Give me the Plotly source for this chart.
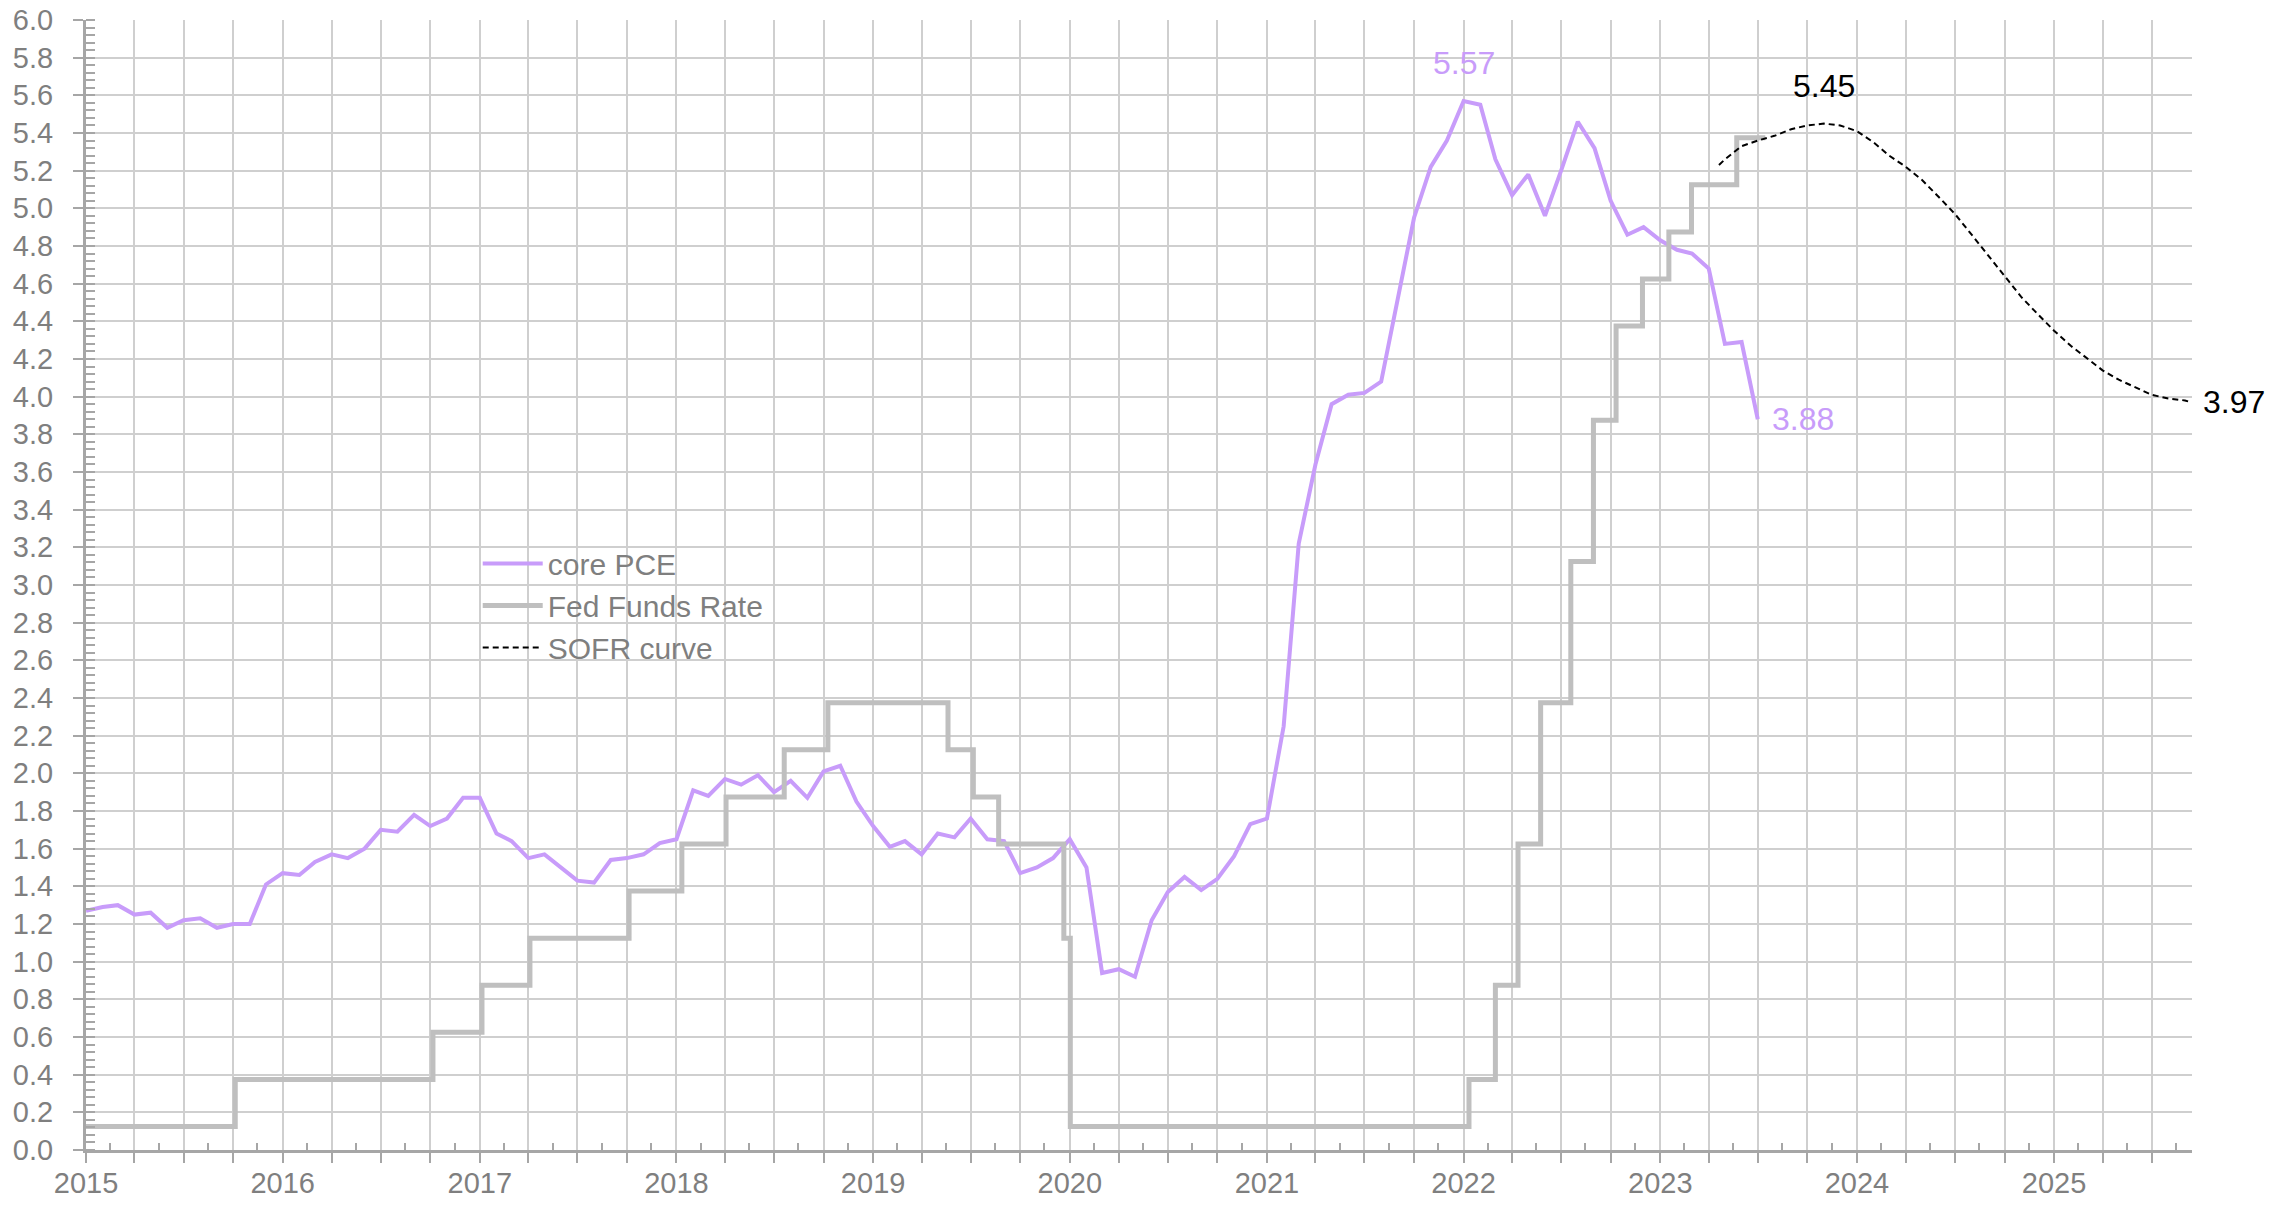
import plotly.graph_objects as go
import pandas as pd

# ---------------- data ----------------
# core PCE, % y/y, monthly from Jan 2015
pce_values = [
    1.27, 1.29, 1.30, 1.25, 1.26, 1.18, 1.22, 1.23, 1.18, 1.20, 1.20, 1.41,  # 2015
    1.47, 1.46, 1.53, 1.57, 1.55, 1.60, 1.70, 1.69, 1.78, 1.72, 1.76, 1.87,  # 2016
    1.87, 1.68, 1.64, 1.55, 1.57, 1.50, 1.43, 1.42, 1.54, 1.55, 1.57, 1.63,  # 2017
    1.65, 1.91, 1.88, 1.97, 1.94, 1.99, 1.90, 1.96, 1.87, 2.01, 2.04, 1.85,  # 2018
    1.72, 1.61, 1.64, 1.57, 1.68, 1.66, 1.76, 1.65, 1.64, 1.47, 1.50, 1.55,  # 2019
    1.65, 1.50, 0.94, 0.96, 0.92, 1.22, 1.37, 1.45, 1.38, 1.44, 1.56, 1.73,  # 2020
    1.76, 2.25, 3.22, 3.64, 3.96, 4.01, 4.02, 4.08, 4.52, 4.95, 5.22, 5.36,  # 2021
    5.57, 5.55, 5.26, 5.07, 5.18, 4.96, 5.20, 5.46, 5.32, 5.04, 4.86, 4.90,  # 2022
    4.83, 4.78, 4.76, 4.68, 4.28, 4.29, 3.88,                                # 2023
]
pce_dates = pd.date_range("2015-01-01", periods=len(pce_values), freq="MS")

# Fed Funds Rate (mid of target range), step changes as placed on the chart
fed_dates = [
    "2015-01-01", "2015-10-05", "2016-10-06", "2017-01-05", "2017-04-04",
    "2017-10-05", "2018-01-11", "2018-04-03", "2018-07-20", "2018-10-09",
    "2019-05-20", "2019-07-06", "2019-08-22", "2019-12-21", "2020-01-02",
    "2022-01-11", "2022-03-01", "2022-04-12", "2022-05-24", "2022-07-19",
    "2022-08-30", "2022-10-11", "2022-11-29", "2023-01-17", "2023-02-28",
    "2023-05-23", "2023-07-15",
]
fed_values = [
    0.125, 0.375, 0.625, 0.875, 1.125,
    1.375, 1.625, 1.875, 2.125, 2.375,
    2.125, 1.875, 1.625, 1.125, 0.125,
    0.375, 0.875, 1.625, 2.375, 3.125,
    3.875, 4.375, 4.625, 4.875, 5.125,
    5.375, 5.375,
]

# SOFR forward curve
sofr_dates = [
    "2023-04-20", "2023-05-01", "2023-06-01", "2023-07-01", "2023-08-01",
    "2023-09-01", "2023-10-01", "2023-11-01", "2023-12-01", "2024-01-01",
    "2024-02-01", "2024-03-01", "2024-04-01", "2024-05-01", "2024-06-01",
    "2024-07-01", "2024-08-01", "2024-09-01", "2024-10-01", "2024-11-01",
    "2024-12-01", "2025-01-01", "2025-02-01", "2025-03-01", "2025-04-01",
    "2025-05-01", "2025-06-01", "2025-07-01", "2025-08-01", "2025-09-01",
    "2025-09-12",
]
sofr_values = [
    5.23, 5.26, 5.33, 5.36, 5.385,
    5.42, 5.44, 5.45, 5.44, 5.41,
    5.35, 5.28, 5.22, 5.15, 5.06,
    4.97, 4.86, 4.75, 4.64, 4.53,
    4.44, 4.35, 4.27, 4.21, 4.14,
    4.09, 4.05, 4.01, 3.99, 3.98,
    3.97,
]

tick_years = [2015, 2016, 2017, 2018, 2019, 2020, 2021, 2022, 2023, 2024, 2025]
y_ticks = [0.0, 0.2, 0.4, 0.6, 0.8, 1.0, 1.2, 1.4, 1.6, 1.8, 2.0, 2.2, 2.4, 2.6, 2.8, 3.0,
           3.2, 3.4, 3.6, 3.8, 4.0, 4.2, 4.4, 4.6, 4.8, 5.0, 5.2, 5.4, 5.6, 5.8, 6.0]
series_names = ["core PCE", "Fed Funds Rate", "SOFR curve"]

# ---------------- styles ----------------
PCE_COLOR = "#C89CFA"
FED_COLOR = "#BFBFBF"
SOFR_COLOR = "#000000"
GRID = "#CFCFCF"
AXIS = "#A6A6A6"
TXT = "#7F7F7F"
FONT = "Arial, Liberation Sans, sans-serif"

x_start, x_end = "2015-01-01", "2025-09-14"

fig = go.Figure()
fig.add_trace(go.Scatter(x=pce_dates, y=pce_values, mode="lines", name=series_names[0],
                         line=dict(color=PCE_COLOR, width=4)))
fig.add_trace(go.Scatter(x=fed_dates, y=fed_values, mode="lines", name=series_names[1],
                         line=dict(color=FED_COLOR, width=5, shape="hv")))
fig.add_trace(go.Scatter(x=sofr_dates, y=sofr_values, mode="lines", name=series_names[2],
                         line=dict(color=SOFR_COLOR, width=2, dash="6px,4px")))

# value labels
pce_peak_i = max(range(len(pce_values)), key=lambda i: pce_values[i])
sofr_peak_i = max(range(len(sofr_values)), key=lambda i: sofr_values[i])
ann = [
    dict(x=pce_dates[pce_peak_i], y=pce_values[pce_peak_i], text=f"{pce_values[pce_peak_i]:.2f}",
         font=dict(color=PCE_COLOR, size=32), yanchor="bottom", xanchor="center", yshift=18),
    dict(x=pce_dates[-1], y=pce_values[-1], text=f"{pce_values[-1]:.2f}",
         font=dict(color=PCE_COLOR, size=32), xanchor="left", yanchor="middle", xshift=12),
    dict(x=sofr_dates[sofr_peak_i], y=sofr_values[sofr_peak_i], text=f"{sofr_values[sofr_peak_i]:.2f}",
         font=dict(color=SOFR_COLOR, size=32), yanchor="bottom", xanchor="center", yshift=18),
    dict(x=sofr_dates[-1], y=sofr_values[-1], text=f"{sofr_values[-1]:.2f}",
         font=dict(color=SOFR_COLOR, size=32), xanchor="left", yanchor="middle", xshift=10),
]
for a in ann:
    a.update(showarrow=False, xref="x", yref="y")
    a["font"]["family"] = FONT
fig.update_layout(annotations=ann)

# axis ticks: quarterly gridlines, year labels, half-quarter minor ticks
quarters = pd.date_range(x_start, "2025-07-01", freq="QS")
q_text = [str(d.year) if (d.month == 1 and d.year in tick_years) else "" for d in quarters]
minor_x = [d + pd.Timedelta(days=45) for d in quarters]

fig.update_xaxes(
    range=[x_start, x_end], type="date", automargin=False,
    tickmode="array", tickvals=quarters, ticktext=q_text,
    showgrid=True, gridcolor=GRID, gridwidth=2,
    ticks="outside", ticklen=10, tickwidth=2, tickcolor=AXIS,
    showline=True, linecolor=AXIS, linewidth=3,
    tickfont=dict(family=FONT, size=29, color=TXT),
    ticklabelstandoff=-5,
    minor=dict(tickmode="array", tickvals=minor_x, ticks="inside", ticklen=7,
               tickwidth=2, tickcolor=AXIS, showgrid=False),
    zeroline=False,
)
fig.update_yaxes(
    range=[0, 6.0], automargin=False,
    tickmode="array", tickvals=y_ticks, ticktext=[f"{v:.1f}" for v in y_ticks],
    showgrid=True, gridcolor=GRID, gridwidth=2,
    ticks="outside", ticklen=10, tickwidth=2, tickcolor=AXIS,
    showline=True, linecolor=AXIS, linewidth=3,
    tickfont=dict(family=FONT, size=29, color=TXT),
    ticklabelstandoff=14,
    minor=dict(dtick=0.04, tick0=0, ticks="inside", ticklen=9, tickwidth=2,
               tickcolor=AXIS, showgrid=False),
    zeroline=False,
)

fig.update_layout(
    width=2292, height=1210,
    margin=dict(l=86, r=100, t=20, b=60),
    paper_bgcolor="white", plot_bgcolor="white",
    font=dict(family=FONT, color=TXT),
    showlegend=True,
    legend=dict(x=0.186, y=0.542, xanchor="left", yanchor="top",
                bgcolor="rgba(0,0,0,0)", font=dict(family=FONT, size=30, color=TXT),
                tracegroupgap=0, itemwidth=60),
)

fig.write_html("out.html", config={"displayModeBar": False},
               post_script="document.body.style.margin='0';")
